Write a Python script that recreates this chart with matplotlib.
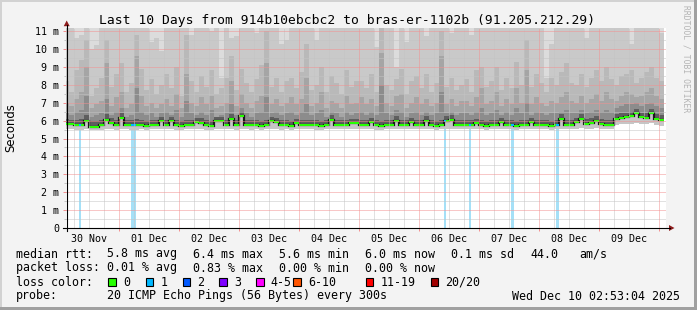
import numpy as np
import matplotlib.pyplot as plt
from matplotlib.patches import Rectangle, Polygon

W, H = 697, 310
plt.rcParams["font.family"] = "DejaVu Sans Mono"

# time axis: hours since 30 Nov 00:00, one bin = 2 hours
t_start, t_end = 2.88, 242.88
bin_edges = np.arange(2, 244, 2)

day_labels = ["30 Nov", "01 Dec", "02 Dec", "03 Dec", "04 Dec",
              "05 Dec", "06 Dec", "07 Dec", "08 Dec", "09 Dec"]

# median rtt per bin (ms)
median_ms = [
    5.8, 5.8, 5.78, 5.76, 5.95, 5.66, 5.66, 5.75, 6.05, 5.88, 5.75, 6.15, 5.75, 5.78, 5.78, 5.75, 5.72, 5.75, 5.75, 5.95,
    5.75, 5.95, 5.75, 5.72, 5.75, 5.75, 5.9, 5.88, 5.75, 5.72, 5.95, 5.95, 5.75, 6.1, 5.75, 6.25, 5.75, 5.75, 5.75, 5.72,
    5.75, 5.95, 5.9, 5.75, 5.75, 5.72, 5.85, 5.75, 5.75, 5.78, 5.75, 5.72, 5.75, 6.03, 5.75, 5.75, 5.78, 5.85, 5.85, 5.75,
    5.75, 5.9, 5.75, 5.72, 5.75, 5.75, 6.0, 5.75, 5.78, 5.9, 5.75, 5.75, 6.0, 5.75, 5.72, 5.75, 6.0, 6.05, 5.75, 5.75,
    5.75, 5.75, 5.85, 5.75, 5.72, 5.75, 5.75, 5.9, 5.75, 5.75, 5.72, 5.75, 5.75, 5.9, 5.75, 5.78, 5.75, 5.72, 5.75, 6.1,
    5.75, 5.78, 5.9, 6.08, 5.8, 5.85, 6.0, 5.8, 5.78, 5.78, 6.1, 6.15, 6.2, 6.25, 6.4, 6.2, 6.15, 6.4, 6.1, 6.05,
]

# lower edge of the smoke
smoke_low = [
    5.55, 5.55, 5.5, 5.5, 5.55, 5.45, 5.45, 5.5, 5.55, 5.55, 5.5, 5.55, 5.55, 5.5, 5.5, 5.55, 5.5, 5.55, 5.55, 5.55,
    5.55, 5.55, 5.5, 5.5, 5.55, 5.55, 5.55, 5.55, 5.5, 5.5, 5.55, 5.55, 5.55, 5.55, 5.5, 5.55, 5.55, 5.5, 5.55, 5.5,
    5.55, 5.55, 5.55, 5.5, 5.55, 5.5, 5.55, 5.55, 5.55, 5.55, 5.5, 5.5, 5.55, 5.55, 5.55, 5.55, 5.55, 5.55, 5.55, 5.55,
    5.55, 5.55, 5.5, 5.5, 5.55, 5.55, 5.55, 5.55, 5.55, 5.55, 5.55, 5.55, 5.55, 5.55, 5.5, 5.55, 5.55, 5.55, 5.55, 5.55,
    5.55, 5.55, 5.55, 5.55, 5.5, 5.55, 5.55, 5.55, 5.55, 5.55, 5.5, 5.55, 5.55, 5.55, 5.55, 5.55, 5.55, 5.5, 5.55, 5.55,
    5.55, 5.55, 5.55, 5.6, 5.55, 5.55, 5.6, 5.55, 5.55, 5.55, 5.75, 5.8, 5.8, 5.8, 5.85, 5.8, 5.8, 5.85, 5.75, 5.7,
]

# upper edges of the smoke bands, darkest (inner) first
smoke_d = [
    6.1, 6.05, 6.05, 6.1, 6.3, 5.95, 5.95, 6.05, 6.35, 6.15, 6.05, 6.4, 6.05, 6.05, 6.1, 6.05, 6.0, 6.05, 6.05, 6.2,
    6.05, 6.2, 6.05, 6.0, 6.05, 6.05, 6.15, 6.15, 6.05, 6.0, 6.2, 6.2, 6.05, 6.35, 6.05, 6.5, 6.05, 6.05, 6.05, 6.0,
    6.05, 6.2, 6.15, 6.05, 6.05, 6.0, 6.1, 6.05, 6.05, 6.05, 6.05, 6.0, 6.05, 6.3, 6.05, 6.05, 6.05, 6.1, 6.1, 6.05,
    6.05, 6.15, 6.05, 6.0, 6.05, 6.05, 6.25, 6.05, 6.05, 6.15, 6.05, 6.05, 6.25, 6.05, 6.0, 6.05, 6.25, 6.3, 6.05, 6.05,
    6.05, 6.05, 6.1, 6.05, 6.0, 6.05, 6.05, 6.15, 6.05, 6.05, 6.0, 6.05, 6.05, 6.15, 6.05, 6.05, 6.05, 6.0, 6.05, 6.35,
    6.05, 6.05, 6.15, 6.35, 6.1, 6.15, 6.25, 6.1, 6.05, 6.05, 6.35, 6.4, 6.45, 6.5, 6.65, 6.45, 6.4, 6.65, 6.35, 6.3,
]
smoke_c = [
    6.4, 6.3, 6.5, 6.6, 7.4, 6.2, 6.3, 6.4, 7.2, 6.3, 6.5, 6.7, 6.2, 6.3, 7.8, 6.5, 6.3, 6.4, 6.2, 6.4,
    6.5, 6.3, 6.6, 6.2, 7.1, 6.4, 6.3, 6.5, 6.3, 6.6, 6.2, 6.3, 6.4, 6.9, 6.3, 6.7, 6.4, 6.2, 6.4, 6.5,
    7.3, 6.4, 6.5, 6.3, 6.4, 6.5, 6.3, 6.5, 6.9, 6.3, 6.4, 6.6, 6.2, 6.5, 6.4, 6.2, 6.5, 6.3, 6.4, 6.5,
    6.3, 6.5, 6.3, 8.0, 6.4, 6.3, 6.6, 6.5, 6.2, 6.4, 6.5, 6.3, 6.5, 6.3, 6.4, 7.6, 6.4, 6.5, 6.3, 6.4,
    6.4, 6.3, 6.5, 6.7, 6.3, 6.4, 6.6, 6.3, 6.5, 6.3, 6.7, 6.4, 7.0, 6.3, 6.5, 6.4, 6.3, 6.4, 6.4, 6.5,
    6.6, 6.4, 6.4, 6.6, 6.4, 6.5, 6.6, 6.5, 6.6, 6.5, 6.7, 6.8, 6.9, 6.9, 7.0, 6.8, 6.9, 7.0, 6.8, 6.7,
]
smoke_b = [
    7.0, 6.8, 7.2, 7.6, 9.0, 6.7, 6.9, 7.1, 9.2, 6.8, 7.3, 7.6, 6.7, 6.9, 9.6, 7.4, 6.8, 7.0, 6.7, 6.9,
    7.2, 6.8, 7.5, 6.7, 8.6, 7.0, 6.8, 7.3, 6.9, 7.4, 6.7, 6.8, 7.0, 8.2, 6.8, 7.5, 7.0, 6.7, 7.1, 7.4,
    9.2, 6.9, 7.2, 6.8, 7.0, 7.3, 6.9, 7.2, 8.4, 6.8, 7.0, 7.6, 6.7, 7.1, 7.0, 6.7, 7.4, 6.9, 7.0, 7.3,
    6.9, 7.2, 6.8, 9.8, 7.0, 6.8, 7.4, 7.5, 6.7, 7.0, 7.3, 6.9, 7.2, 6.8, 7.0, 9.6, 6.9, 7.2, 6.8, 7.1,
    7.1, 6.8, 7.3, 7.8, 6.9, 7.1, 7.6, 6.8, 7.2, 6.9, 7.8, 7.0, 8.8, 6.9, 7.3, 7.0, 6.8, 7.1, 7.0, 7.3,
    7.6, 7.1, 7.0, 7.4, 7.0, 7.2, 7.5, 7.1, 7.6, 7.2, 7.1, 7.4, 7.6, 7.5, 7.3, 7.4, 7.6, 7.8, 7.4, 7.2,
]
smoke_a = [
    8.2, 7.6, 8.8, 9.4, 10.5, 7.4, 7.8, 8.4, 10.5, 7.9, 8.6, 9.2, 7.6, 8.1, 10.8, 8.9, 7.7, 8.3, 7.5, 8.0,
    8.6, 7.8, 9.0, 7.4, 10.8, 8.2, 7.6, 8.5, 7.9, 8.8, 7.5, 7.8, 8.4, 9.6, 7.7, 8.9, 8.1, 7.6, 8.3, 9.1,
    11.0, 7.9, 8.4, 7.6, 8.2, 8.4, 7.8, 8.7, 10.3, 7.7, 8.0, 9.0, 7.6, 8.5, 8.1, 7.5, 8.8, 7.9, 8.2, 8.2,
    7.8, 8.6, 7.6, 11.2, 8.0, 7.7, 8.3, 8.9, 7.5, 8.2, 8.5, 7.8, 8.6, 7.6, 8.1, 11.0, 7.9, 8.4, 7.7, 8.0,
    8.3, 7.6, 8.8, 9.0, 7.9, 8.2, 9.0, 7.7, 8.4, 7.8, 9.3, 8.0, 10.5, 7.9, 8.6, 8.1, 7.6, 8.4, 8.0, 8.7,
    9.2, 8.1, 8.0, 8.6, 7.9, 8.4, 8.8, 8.2, 9.0, 8.3, 8.0, 8.5, 8.6, 8.8, 8.1, 8.4, 8.7, 9.0, 8.4, 8.2,
]
smoke_top = [
    11.6, 11.6, 10.6, 10.8, 11.6, 10.0, 10.2, 11.6, 11.6, 11.6, 11.6, 11.6, 11.6, 11.6, 11.6, 11.6, 11.6, 10.4, 10.6, 9.9,
    11.6, 11.6, 11.6, 11.6, 11.6, 10.8, 11.6, 11.6, 11.6, 11.0, 11.6, 8.4, 11.6, 10.6, 10.7, 11.6, 11.6, 11.6, 10.9, 11.6,
    11.6, 11.6, 11.6, 10.3, 10.5, 11.6, 11.6, 11.6, 11.6, 11.6, 10.5, 11.6, 11.6, 11.6, 11.6, 11.6, 11.6, 11.6, 11.6, 11.6,
    11.6, 11.6, 10.1, 11.6, 11.6, 11.6, 9.0, 11.6, 10.4, 11.6, 11.6, 11.6, 10.7, 11.6, 11.6, 11.6, 11.6, 10.9, 11.6, 11.6,
    11.6, 10.8, 11.6, 11.6, 11.6, 11.6, 11.6, 11.6, 11.6, 11.6, 11.6, 11.6, 11.6, 11.6, 11.6, 11.6, 8.4, 10.3, 11.6, 11.6,
    11.6, 11.6, 11.6, 11.6, 10.6, 11.6, 11.6, 11.6, 11.6, 11.6, 11.6, 11.6, 11.6, 10.3, 11.6, 11.6, 11.6, 11.6, 11.6, 10.9,
]

# hours with one lost ping
loss_start_h = [8, 29, 154, 164, 181, 199]
loss_len_h = [1, 2, 1, 1, 1, 1]

# legend
loss_names = ["0", "1", "2", "3", "4-5", "6-10", "11-19", "20/20"]
loss_colors = ["#26ff00", "#00b8ff", "#0059ff", "#7e00ff", "#ff00ff", "#ff5500", "#ff0000", "#a10000"]
rtt_stats = ["5.8 ms avg", "6.4 ms max", "5.6 ms min", "6.0 ms now", "0.1 ms sd", "44.0", "am/s"]
loss_stats = ["0.01 % avg", "0.83 % max", "0.00 % min", "0.00 % now"]

median = np.array(median_ms)
low = np.array(smoke_low)

fig = plt.figure(figsize=(W / 100, H / 100), dpi=100, facecolor="#f3f3f3")
ax = fig.add_axes([66 / W, 82 / H, 600 / W, 200 / H])
ax.set_facecolor("white")
ax.set_xlim(t_start, t_end)
ax.set_ylim(0, 200 / 17.9)
for sp in ax.spines.values():
    sp.set_visible(False)

# loss bars
for s, d in zip(loss_start_h, loss_len_h):
    i = int((s - 2) // 2)
    ax.fill_between([s, s + d], 0, low[i], color="#a5e0f7", lw=0, zorder=1)

# smoke
ceiling = np.full(len(median), 11.6)
bands = [(ceiling, "#dcdcdc"), (smoke_top, "#c9c9c9"), (smoke_a, "#b9b9b9"),
         (smoke_b, "#a5a5a5"), (smoke_c, "#8c8c8c"), (smoke_d, "#5e5e5e")]
for top, col in bands:
    ax.stairs(top, bin_edges, baseline=median, fill=True, facecolor=col,
              edgecolor="none", zorder=2)
ax.stairs(median, bin_edges, baseline=low, fill=True, facecolor="#c6c6c6",
          edgecolor="none", zorder=2)

# median line
ax.stairs(median, bin_edges, baseline=None, color="#1a1a1a", lw=1.6, zorder=3)
ax.hlines(median, bin_edges[:-1], bin_edges[1:], color="#26ff00", lw=1.45, zorder=4)
for s, d in zip(loss_start_h, loss_len_h):
    i = int((s - 2) // 2)
    ax.hlines(median[i], s, s + d, color="#00b8ff", lw=1.45, zorder=4)

# grid on top, dotted
dots = (0, (1, 1))
for y in np.arange(0.5, 11.1, 1.0):
    ax.axhline(y, color="#c4c4c4", lw=0.72, ls=dots, zorder=5)
for h in np.arange(6, 243, 6):
    if h % 24:
        ax.axvline(h, color="#c4c4c4", lw=0.72, ls=dots, zorder=5)
for y in range(1, 12):
    ax.axhline(y, color="#f39090", lw=0.72, ls=dots, zorder=6)
for h in range(24, 241, 24):
    ax.axvline(h, color="#f39090", lw=0.72, ls=dots, zorder=6)

ax.set_yticks(range(12), ["0"] + [f"{k} m" for k in range(1, 12)])
ax.set_yticks(np.arange(0.5, 11, 1.0), minor=True)
ax.set_xticks(range(24, 241, 24), [""] * 10)
ax.set_xticks(range(12, 229, 24), day_labels, minor=True)
ax.tick_params(axis="y", which="major", length=2.2, width=0.72, color="#f39090",
               pad=2.8, labelsize=7.2)
ax.tick_params(axis="y", which="minor", length=1.5, width=0.72, color="#c4c4c4")
ax.tick_params(axis="x", which="major", length=2.2, width=0.72, color="#f39090")
ax.tick_params(axis="x", which="minor", length=0, pad=4.0, labelsize=7.2)

# overlay in pixel coordinates
ov = fig.add_axes([0, 0, 1, 1], facecolor="none")
ov.set_xlim(0, W)
ov.set_ylim(H, 0)
ov.axis("off")

ov.add_patch(Rectangle((0, 0), W, 2, color="#d2d2d2", lw=0))
ov.add_patch(Rectangle((0, 0), 2, H, color="#d2d2d2", lw=0))
ov.add_patch(Rectangle((W - 3, 0), 3, H, color="#a0a0a0", lw=0))
ov.add_patch(Rectangle((0, H - 3), W, 3, color="#a0a0a0", lw=0))

ov.plot([66.7, 66.7], [231, 25], color="black", lw=0.8)
ov.plot([63, 669.5], [228, 228], color="black", lw=0.8)
ov.add_patch(Polygon([[63.7, 26.2], [69.7, 26.2], [66.7, 20.5]], color="#8e1c1c", lw=0))
ov.add_patch(Polygon([[669, 225], [669, 231], [674.5, 228]], color="#8e1c1c", lw=0))

ov.text(347.5, 24, "Last 10 Days from 914b10ebcbc2 to bras-er-1102b (91.205.212.29)",
        ha="center", va="baseline", fontsize=9.4)
ov.text(11, 128, "Seconds", rotation=90, ha="center", va="center",
        fontsize=8.4, family="DejaVu Sans")
ov.text(686, 59, "RRDTOOL / TOBI OETIKER", rotation=270, ha="center", va="center",
        fontsize=5.8, color="#b4b4b4")

fs = 8.35
ov.text(16, 257.5, "median rtt:", fontsize=fs, va="baseline")
for x, s in zip([107, 193, 279, 365, 451, 530, 579], rtt_stats):
    ov.text(x, 257.5, s, fontsize=fs, va="baseline")
ov.text(16, 271.5, "packet loss:", fontsize=fs, va="baseline")
for x, s in zip([107, 193, 279, 365], loss_stats):
    ov.text(x, 271.5, s, fontsize=fs, va="baseline")
ov.text(16, 285.5, "loss color:", fontsize=fs, va="baseline")
for x, name, col in zip([108.3, 145.7, 182.7, 219.3, 256.3, 293.3, 365.7, 431],
                        loss_names, loss_colors):
    ov.add_patch(Rectangle((x, 278.3), 7.4, 7.4, facecolor=col, edgecolor="black", lw=0.8))
    ov.text(x + 14.5, 285.5, name, fontsize=fs, va="baseline")
ov.text(16, 299.5, "probe:", fontsize=fs, va="baseline")
ov.text(107, 299.5, "20 ICMP Echo Pings (56 Bytes) every 300s", fontsize=fs, va="baseline")
ov.text(680, 299.5, "Wed Dec 10 02:53:04 2025", fontsize=fs, va="baseline", ha="right")

fig.savefig("out.png", dpi=100, facecolor=fig.get_facecolor())
